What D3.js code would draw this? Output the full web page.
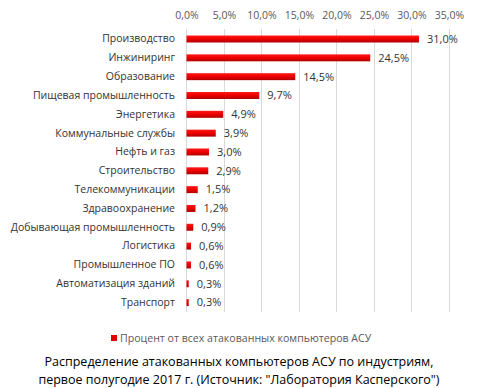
<!DOCTYPE html>
<html><head><meta charset="utf-8">
<script src="https://cdn.jsdelivr.net/npm/d3@7"></script>
<style>body{margin:0;background:#fff}svg{display:block}</style>
</head><body>
<script>
const categories = ["Производство","Инжиниринг","Образование","Пищевая промышленность","Энергетика","Коммунальные службы","Нефть и газ","Строительство","Телекоммуникации","Здравоохранение","Добывающая промышленность","Логистика","Промышленное ПО","Автоматизация зданий","Транспорт"];
const values = [31.0,24.5,14.5,9.7,4.9,3.9,3.0,2.9,1.5,1.2,0.9,0.6,0.6,0.3,0.3];
const tickValues = [0,5,10,15,20,25,30,35];
const seriesName = "Процент от всех атакованных компьютеров АСУ";
const titleLines = ["Распределение атакованных компьютеров АСУ по индустриям,", "первое полугодие 2017 г. (Источник: \"Лаборатория Касперского\")"];

const W=478,H=388;
const fmt = v => v.toFixed(1).replace(".", ",") + "%";
const font = "'Open Sans', sans-serif";
const svg = d3.select("body").append("svg").attr("width",W).attr("height",H);
const defs = svg.append("defs");
const grad = defs.append("linearGradient").attr("id","barg").attr("x1",0).attr("y1",0).attr("x2",0).attr("y2",1);
grad.append("stop").attr("offset","0%").attr("stop-color","#ff1a1a");
grad.append("stop").attr("offset","45%").attr("stop-color","#f00000");
grad.append("stop").attr("offset","100%").attr("stop-color","#b00000");

const x = d3.scaleLinear().domain([0,35]).range([186.5,449]);
const y = d3.scaleBand().domain(categories).range([29.6,312]).paddingInner(0.63).paddingOuter(0.315);

// gridlines
svg.append("g").selectAll("line").data(tickValues).join("line")
  .attr("x1",d=>x(d)).attr("x2",d=>x(d)).attr("y1",29).attr("y2",312)
  .attr("stroke","#d9d9d9").attr("stroke-width",1).attr("shape-rendering","crispEdges");

// top axis labels
const xa = svg.append("g").attr("transform","translate(0,29)")
  .call(d3.axisTop(x).tickValues(tickValues).tickFormat(fmt).tickSize(0).tickPadding(10));
xa.select(".domain").remove();
xa.selectAll("text").attr("font-family",font).attr("font-size",10.5).attr("fill","#595959");

// category axis
const ya = svg.append("g").attr("transform","translate(175,0)")
  .call(d3.axisLeft(y).tickSize(0).tickPadding(0));
ya.select(".domain").remove();
ya.selectAll("text").attr("font-family",font).attr("font-size",10.5).attr("fill","#333333");

// bars
svg.append("g").selectAll("rect").data(values).join("rect")
  .attr("x",x(0)).attr("y",(d,i)=>y(categories[i]))
  .attr("width",d=>x(d)-x(0)).attr("height",y.bandwidth())
  .attr("fill","url(#barg)");

// value labels
svg.append("g").selectAll("text").data(values).join("text")
  .attr("x",d=>x(d)+8).attr("y",(d,i)=>y(categories[i])+y.bandwidth()/2)
  .attr("dy","0.35em").attr("font-family",font).attr("font-size",11).attr("fill","#333333")
  .text(fmt);

// legend
svg.append("rect").attr("x",111).attr("y",335).attr("width",6).attr("height",6).attr("fill","#e00000");
svg.append("text").attr("x",120).attr("y",338).attr("dy","0.35em").attr("font-family",font)
  .attr("font-size",10.6).attr("fill","#595959").text(seriesName);

// title
svg.append("g").selectAll("text").data(titleLines).join("text")
  .attr("x",239).attr("y",(d,i)=>362+i*18).attr("dy","0.35em").attr("text-anchor","middle")
  .attr("font-family",font).attr("font-size",12.5).attr("fill","#000").text(d=>d);
</script>
</body></html>
